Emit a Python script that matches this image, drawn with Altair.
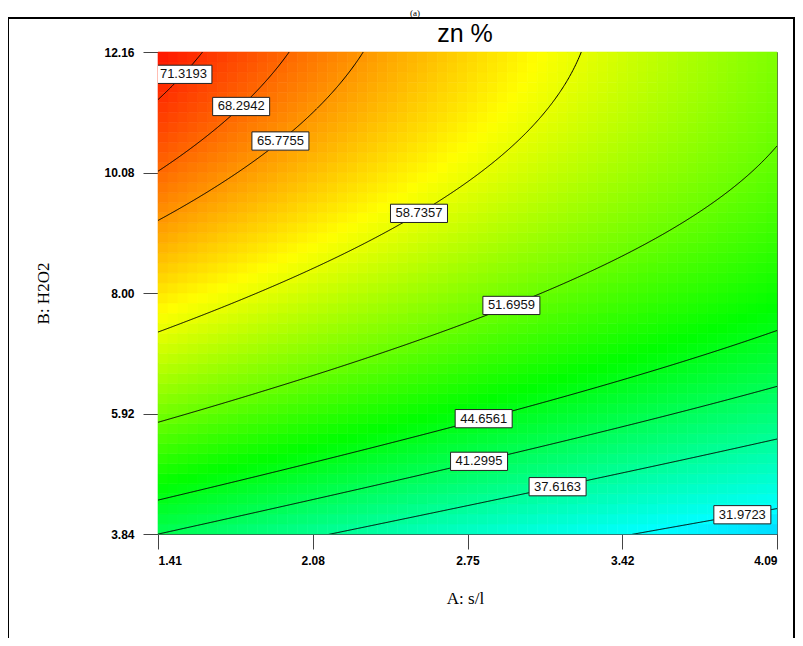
import numpy as np
import pandas as pd
import altair as alt

# ---- values ----
A_TICKS = [1.41, 2.08, 2.75, 3.42, 4.09]          # A: s/l
B_TICKS = [3.84, 5.92, 8.00, 10.08, 12.16]        # B: H2O2
A_CENTER, A_HALF = 2.75, 1.34
B_CENTER, B_HALF = 8.00, 4.16
# response-surface coefficients (coded units) estimated from the contour positions
COEF_TERMS = ["1", "a", "b", "ab", "a2", "b2", "ab2"]
COEF = [53.44, -7.41, 13.70, -2.10, 0.56, -4.80, -0.50]
LEVELS = [31.9723, 37.6163, 41.2995, 44.6561, 51.6959, 58.7357, 65.7755, 68.2942, 71.3193]
LABEL_A = [3.94, 3.14, 2.80, 2.82, 2.94, 2.54, 1.94, 1.77, 1.52]   # where each label sits along its line
COLOR_STOPS = [18, 32, 46, 60, 74]
COLOR_RANGE = ["#0000ff", "#00ffff", "#00ff00", "#ffff00", "#ff0000"]
GRID_A, GRID_B = 62, 48
TITLE = "zn %"
PANEL = "(a)"

c = dict(zip(COEF_TERMS, COEF))


def zval(a, b):
    return (c["1"] + c["a"] * a + c["b"] * b + c["ab"] * a * b
            + c["a2"] * a * a + c["b2"] * b * b + c["ab2"] * a * b * b)


def b_on_level(a, L):
    Q = c["b2"] + c["ab2"] * a
    P = c["b"] + c["ab"] * a
    R = c["1"] + c["a"] * a + c["a2"] * a * a - L
    D = P * P - 4 * Q * R
    return (-P + np.sqrt(D)) / (2 * Q)


# heat-map cells
ea = np.linspace(-1, 1, GRID_A + 1)
eb = np.linspace(-1, 1, GRID_B + 1)
rows = []
for i in range(GRID_A):
    for j in range(GRID_B):
        ac = (ea[i] + ea[i + 1]) / 2
        bc = (eb[j] + eb[j + 1]) / 2
        rows.append({
            "A0": A_CENTER + A_HALF * ea[i], "A1": A_CENTER + A_HALF * ea[i + 1],
            "B0": B_CENTER + B_HALF * eb[j], "B1": B_CENTER + B_HALF * eb[j + 1],
            "z": zval(ac, bc),
        })
heat_df = pd.DataFrame(rows)

# contour lines
aa = np.linspace(-1, 1, 801)
lrows = []
for L in LEVELS:
    bb = b_on_level(aa, L)
    for a, b in zip(aa, bb):
        if np.isfinite(b) and -1.3 <= b <= 1.3:
            lrows.append({"A": A_CENTER + A_HALF * a, "B": B_CENTER + B_HALF * b, "level": f"{L:.4f}"})
line_df = pd.DataFrame(lrows)

# contour labels
lab = []
for L, A in zip(LEVELS, LABEL_A):
    a = (A - A_CENTER) / A_HALF
    b = float(b_on_level(a, L))
    lab.append({"A": A, "B": B_CENTER + B_HALF * b, "text": f"{L:.4f}"})
lab_df = pd.DataFrame(lab)

xs = alt.Scale(domain=[A_TICKS[0], A_TICKS[-1]], nice=False, zero=False)
ys = alt.Scale(domain=[B_TICKS[0], B_TICKS[-1]], nice=False, zero=False)
xaxis = alt.Axis(values=A_TICKS, format=".2f", title="A: s/l", grid=False,
                 tickSize=15, labelPadding=6, titleX=307, titleY=64,
                 titleBaseline="middle", titleAlign="center")
yaxis = alt.Axis(values=B_TICKS, format=".2f", title="B: H2O2", grid=False,
                 tickSize=15, labelPadding=9, titleX=-115, titleY=241,
                 titleBaseline="middle", titleAlign="center", titleAngle=-90)
cs = alt.Scale(domain=COLOR_STOPS, range=COLOR_RANGE, interpolate="rgb")

heat = alt.Chart(heat_df).mark_rect(strokeWidth=0.6).encode(
    x=alt.X("A0:Q", scale=xs, axis=xaxis),
    x2="A1:Q",
    y=alt.Y("B0:Q", scale=ys, axis=yaxis),
    y2="B1:Q",
    color=alt.Color("z:Q", scale=cs, legend=None),
    stroke=alt.Stroke("z:Q", scale=cs, legend=None),
)

lines = alt.Chart(line_df).mark_line(color="black", strokeWidth=1, clip=True).encode(
    x=alt.X("A:Q", scale=xs, axis=xaxis),
    y=alt.Y("B:Q", scale=ys, axis=yaxis),
    detail="level:N",
    order="A:Q",
)

boxes = alt.Chart(lab_df).mark_point(
    shape="M-1,-0.32H1V0.32H-1Z", size=57 * 57, filled=True, fill="white",
    stroke="#222222", strokeWidth=1, opacity=1, clip=True,
).encode(
    x=alt.X("A:Q", scale=xs, axis=xaxis),
    y=alt.Y("B:Q", scale=ys, axis=yaxis),
)

texts = alt.Chart(lab_df).mark_text(
    font="Liberation Sans", fontSize=13, color="#111111", clip=True, baseline="middle",
).encode(
    x=alt.X("A:Q", scale=xs, axis=xaxis),
    y=alt.Y("B:Q", scale=ys, axis=yaxis),
    text="text:N",
)

one = pd.DataFrame({"k": [0]})
frame = alt.Chart(one).mark_rect(filled=False, stroke="black", strokeWidth=2).encode(
    x=alt.value(-150), x2=alt.value(636), y=alt.value(-34), y2=alt.value(660),
)
panel = alt.Chart(one).mark_text(
    text=PANEL, font="Liberation Serif", fontSize=9, baseline="middle", color="black"
).encode(x=alt.value(257), y=alt.value(-39.5))
title = alt.Chart(one).mark_text(
    text=TITLE, font="Liberation Sans", fontSize=25, baseline="alphabetic", color="black"
).encode(x=alt.value(307), y=alt.value(-10))

chart = alt.layer(heat, lines, boxes, texts, frame, panel, title).properties(
    width=619, height=482,
    padding={"left": 150, "top": 44, "right": 18, "bottom": 104},
    autosize=alt.AutoSizeParams(type="none"),
).configure_axis(
    labelFont="Liberation Sans", labelFontSize=12, labelFontWeight="bold", labelColor="black",
    titleFont="Liberation Serif", titleFontSize=17, titleFontWeight="normal", titleColor="black",
    domainColor="#444444", tickColor="#444444",
).configure_view(stroke="#555555", strokeWidth=1)

chart.save("out.html", embed_options={"renderer": "svg", "actions": False})
